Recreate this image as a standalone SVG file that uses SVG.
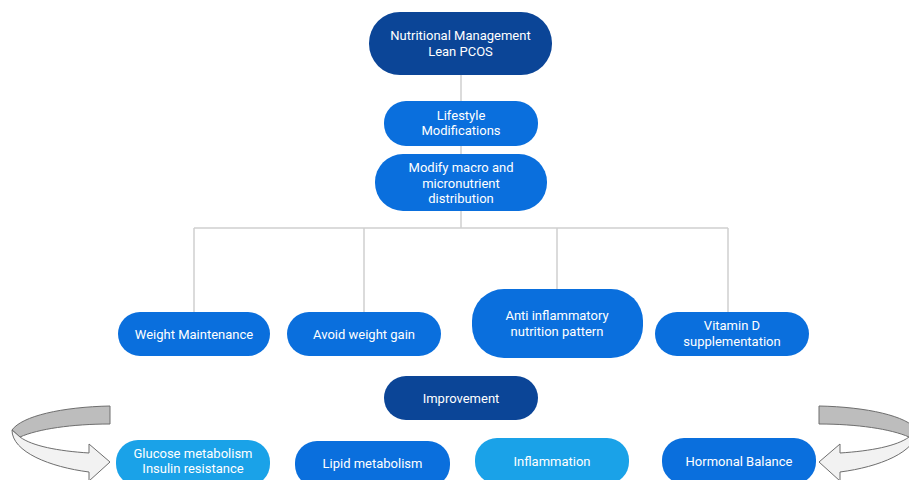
<svg xmlns="http://www.w3.org/2000/svg" width="909" height="480" viewBox="0 0 909 480">
<defs>
<style>
.dark{fill:#0b4597}
.mid{fill:#0a6fdd}
.light{fill:#1aa2e8}
text{font-family:Roboto,"Liberation Sans",sans-serif;font-size:13px;fill:#ffffff;text-anchor:middle}
.conn{stroke:#cfcfcf;stroke-width:1.5;fill:none}
.arrD{fill:#bdbdbd;stroke:#6e6e6e;stroke-width:1}
.arrL{fill:#f2f2f2;stroke:#6e6e6e;stroke-width:1}
</style>
<g id="curvedArrow">
<path class="arrD" d="M110,406 L110,424 C72,424 38,429 20,437 L12,430 C22,416 62,407 110,406 Z"/>
<path class="arrL" d="M12,430 C12,452 50,467 89,472 L89,481 L110,462 L89,444 L89,453 C58,451 32,446 20,437 Z"/>
</g>
</defs>
<rect width="909" height="480" fill="#ffffff"/>
<g id="connectors">
<line class="conn" x1="461" y1="75" x2="461" y2="101"/>
<line class="conn" x1="461" y1="146" x2="461" y2="154"/>
<line class="conn" x1="461" y1="211" x2="461" y2="228"/>
<line class="conn" x1="194" y1="228" x2="728" y2="228"/>
<line class="conn" x1="194" y1="228" x2="194" y2="312"/>
<line class="conn" x1="364" y1="228" x2="364" y2="312"/>
<line class="conn" x1="557" y1="228" x2="557" y2="289"/>
<line class="conn" x1="728" y1="228" x2="728" y2="312"/>
</g>
<g id="n-root"><rect class="dark" x="369" y="12" width="183" height="63" rx="31"/><text x="460.5" y="40">Nutritional Management</text><text x="460.5" y="56">Lean PCOS</text></g>
<g id="n-lifestyle"><rect class="mid" x="384" y="101" width="154" height="45" rx="22"/><text x="461" y="120">Lifestyle</text><text x="461" y="135">Modifications</text></g>
<g id="n-modify"><rect class="mid" x="375" y="154" width="172" height="57" rx="28"/><text x="461" y="172">Modify macro and</text><text x="461" y="188">micronutrient</text><text x="461" y="203">distribution</text></g>
<g id="n-weight"><rect class="mid" x="118" y="312" width="152" height="44" rx="22"/><text x="194" y="338.5">Weight Maintenance</text></g>
<g id="n-avoid"><rect class="mid" x="287" y="312" width="154" height="44" rx="22"/><text x="364" y="338.5">Avoid weight gain</text></g>
<g id="n-anti"><rect class="mid" x="472" y="289" width="171" height="69" rx="32"/><text x="557" y="320">Anti inflammatory</text><text x="557" y="336">nutrition pattern</text></g>
<g id="n-vitd"><rect class="mid" x="655" y="312" width="154" height="44" rx="22"/><text x="732" y="330">Vitamin D</text><text x="732" y="346">supplementation</text></g>
<g id="n-improve"><rect class="dark" x="384" y="376" width="154" height="44" rx="22"/><text x="461" y="402.5">Improvement</text></g>
<g id="n-glucose"><rect class="light" x="116" y="440" width="154" height="46" rx="22"/><text x="193" y="458">Glucose metabolism</text><text x="193" y="473">Insulin resistance</text></g>
<g id="n-lipid"><rect class="mid" x="295" y="441" width="155" height="46" rx="22"/><text x="372.5" y="467.5">Lipid metabolism</text></g>
<g id="n-inflam"><rect class="light" x="475" y="438" width="154" height="46" rx="22"/><text x="552" y="465.5">Inflammation</text></g>
<g id="n-hormonal"><rect class="mid" x="662" y="438" width="154" height="46" rx="22"/><text x="739" y="465.5">Hormonal Balance</text></g>
<g id="arrow-left"><use href="#curvedArrow"/></g>
<g id="arrow-right"><use href="#curvedArrow" transform="translate(929,0) scale(-1,1)"/></g>
</svg>
